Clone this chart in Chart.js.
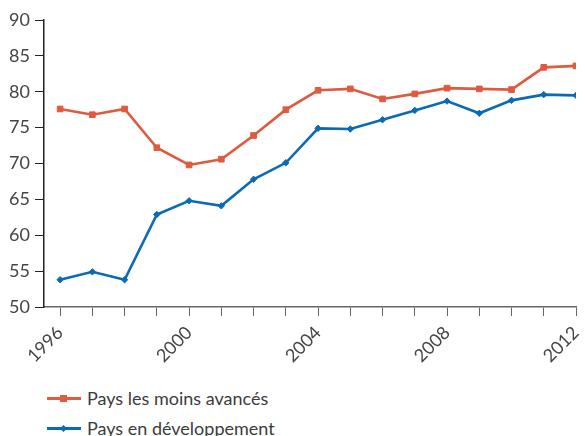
<!DOCTYPE html>
<html>
<head>
<meta charset="utf-8">
<script src="https://cdn.jsdelivr.net/npm/chart.js@4.4.1/dist/chart.umd.min.js"></script>
<style>
  body { margin: 0; background: #fff; font-family: Lato, "Open Sans", sans-serif; }
  #wrap { position: relative; width: 585px; height: 375px; }
  .leg { position: absolute; left: 47px; height: 24px; display: flex; align-items: center; color: #3c3c3c; font-size: 18px; }
  .leg .sym { position: relative; width: 34px; height: 3px; margin-right: 6px; }
  .leg .mk { position: absolute; left: 13px; top: -2px; width: 7px; height: 7px; }
</style>
</head>
<body>
<div id="wrap"><canvas id="chart"></canvas></div>
<div id="legend"></div>
<script>
const years = [1996, 1997, 1998, 1999, 2000, 2001, 2002, 2003, 2004, 2005, 2006, 2007, 2008, 2009, 2010, 2011, 2012];
const leastDeveloped = [77.6, 76.8, 77.6, 72.2, 69.8, 70.6, 73.9, 77.5, 80.2, 80.4, 79.0, 79.7, 80.5, 80.4, 80.3, 83.4, 83.6];
const developing = [53.8, 54.9, 53.8, 62.9, 64.8, 64.1, 67.8, 70.1, 74.9, 74.8, 76.1, 77.4, 78.7, 77.0, 78.8, 79.6, 79.5];
const labelledYears = [1996, 2000, 2004, 2008, 2012];
const seriesNames = ['Pays les moins avancés', 'Pays en développement'];

const red = '#df5a3e';
const blue = '#0a6ab4';
const font = { family: 'Lato, "Open Sans", sans-serif', size: 18 };

const toPoints = vals => years.map((y, i) => ({ x: y, y: vals[i] }));

new Chart(document.getElementById('chart'), {
    type: 'line',
    data: {
        datasets: [
            {
                label: seriesNames[0],
                data: toPoints(leastDeveloped),
                borderColor: red,
                backgroundColor: red,
                borderWidth: 2.6,
                pointStyle: 'rect',
                pointRadius: 4,
                pointBorderWidth: 1,
                tension: 0
            },
            {
                label: seriesNames[1],
                data: toPoints(developing),
                borderColor: blue,
                backgroundColor: blue,
                borderWidth: 2.6,
                pointStyle: 'rectRot',
                pointRadius: 3.2,
                pointBorderWidth: 1,
                tension: 0
            }
        ]
    },
    options: {
        responsive: true,
        maintainAspectRatio: false,
        animation: false,
        layout: { padding: { top: 20, right: 9, left: 0, bottom: 0 } },
        plugins: { legend: { display: false }, tooltip: { enabled: false } },
        scales: {
            x: {
                type: 'linear',
                min: 1995.5,
                max: 2012,
                afterFit: s => { s.height = 68; s.paddingRight = 0; },
                border: { display: true, color: '#666', width: 1.5 },
                grid: { display: true, drawOnChartArea: false, drawTicks: true, tickLength: 9, color: '#666' },
                ticks: {
                    stepSize: 1,
                    includeBounds: false,
                    autoSkip: false,
                    maxRotation: 45,
                    minRotation: 45,
                    padding: 6,
                    color: '#444',
                    font: font,
                    callback: v => labelledYears.includes(v) ? String(v) : ''
                }
            },
            y: {
                min: 50,
                max: 90,
                afterFit: s => { s.width = 44; },
                border: { display: true, color: '#222', width: 1.5 },
                grid: { display: true, drawOnChartArea: false, drawTicks: true, tickLength: 9, color: '#222' },
                ticks: { stepSize: 5, padding: 5, color: '#444', font: font }
            }
        }
    }
});

// legend rows under the chart
const legend = document.getElementById('legend');
[[seriesNames[0], red, false, 386], [seriesNames[1], blue, true, 416]].forEach(([name, col, diamond, top]) => {
    const row = document.createElement('div');
    row.className = 'leg';
    row.style.top = top + 'px';
    row.innerHTML = '<span class="sym" style="background:' + col + '"><span class="mk" style="background:' + col +
        (diamond ? ';transform:rotate(45deg) scale(0.7)' : '') + '"></span></span><span>' + name + '</span>';
    legend.appendChild(row);
});
</script>
</body>
</html>
